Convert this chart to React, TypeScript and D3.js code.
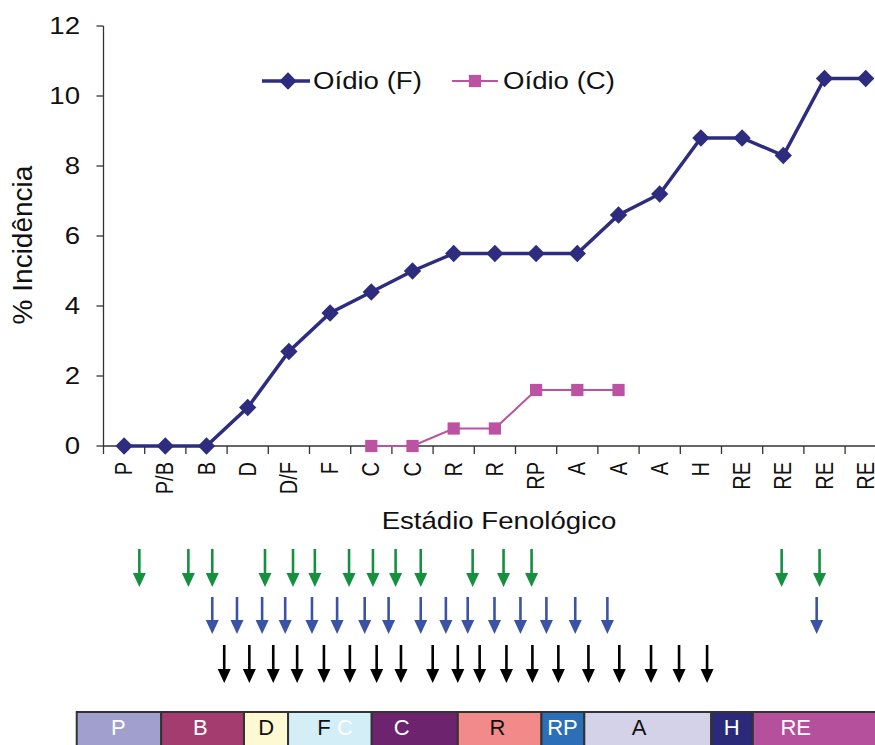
import React from 'react';
import * as d3 from 'd3';

// phenological stages on the x axis
const stages = ['P', 'P/B', 'B', 'D', 'D/F', 'F', 'C', 'C', 'R', 'R', 'RP', 'A', 'A', 'A', 'H', 'RE', 'RE', 'RE', 'RE'];
const oidioF = [0, 0, 0, 1.1, 2.7, 3.8, 4.4, 5.0, 5.5, 5.5, 5.5, 5.5, 6.6, 7.2, 8.8, 8.8, 8.3, 10.5, 10.5];
const oidioC: (number | null)[] = [null, null, null, null, null, null, 0, 0, 0.5, 0.5, 1.6, 1.6, 1.6, null, null, null, null, null, null];
const yTicks = [0, 2, 4, 6, 8, 10, 12];

// treatments (arrows), in stage units along the x axis
const greenArrows = [0.87, 2.06, 2.64, 3.92, 4.6, 5.13, 5.96, 6.54, 7.09, 7.7, 8.96, 9.71, 10.39, 16.46, 17.38];
const blueArrows = [2.64, 3.24, 3.85, 4.41, 5.06, 5.67, 6.34, 6.92, 7.7, 8.31, 8.84, 9.49, 10.12, 10.75, 11.45, 12.23, 17.31];
const blackArrows = [2.93, 3.54, 4.12, 4.7, 5.35, 5.98, 6.63, 7.22, 7.99, 8.6, 9.13, 9.78, 10.41, 11.04, 11.77, 12.52, 13.29, 13.97, 14.65];

// stage bar underneath
const barLabels = ['P', 'B', 'D', 'F C', 'C', 'R', 'RP', 'A', 'H', 'RE'];
const barStart = [-0.65, 1.4, 3.41, 4.48, 6.51, 8.6, 10.63, 11.67, 14.75, 15.76];
const barEnd = [1.4, 3.41, 4.48, 6.51, 8.6, 10.63, 11.67, 14.75, 15.76, 19.5];
const barLabelAt = [0.36, 2.35, 3.95, 5.62, 7.24, 9.56, 11.14, 13.0, 15.25, 16.8];
const barFill = ['#a09fcd', '#a43c6f', '#fdf9d2', '#d4eef8', '#6e236e', '#f38a8a', '#2a6fb7', '#d3d2e9', '#2b2a7a', '#b5509d'];
const barText = ['#fff', '#fff', '#111', '#111', '#fff', '#111', '#fff', '#111', '#fff', '#fff'];

const FONT = '"Liberation Sans", Arial, sans-serif';
const SX = 1.15; // the picture is a bit wider than tall
const NAVY = '#2d2c7e';
const PINK = '#bb52a2';

function SText(props: any) {
    const { x, y, rotate, children, ...rest } = props;
    const rot = rotate ? ` rotate(${rotate})` : '';
    return (
        <g transform={`translate(${x},${y}) scale(${SX},1)${rot}`}>
            <text fontFamily={FONT} {...rest}>{children}</text>
        </g>
    );
}

function Arrow(props: any) {
    const { x, top, tip, color } = props;
    const head = 14;
    return (
        <g>
            <line x1={x} x2={x} y1={top} y2={tip - head + 1} stroke={color} strokeWidth={2.6} />
            <path d={`M${x - 6.5},${tip - head} L${x + 6.5},${tip - head} L${x},${tip} Z`} fill={color} />
        </g>
    );
}

export default function App() {
    const width = 875;
    const height = 745;
    const left = 103.5;
    const step = 41.2;
    const n = stages.length;

    const x = d3.scaleBand<number>().domain(d3.range(n)).range([left, left + n * step]).padding(0);
    const pos = d3.scaleLinear().domain([0, n]).range([left, left + n * step]);
    const y = d3.scaleLinear().domain([0, 12]).range([446, 26]);
    const cx = (i: number) => (x(i) as number) + x.bandwidth() / 2;

    const line = d3.line<number | null>()
        .defined((d) => d != null)
        .x((d, i) => cx(i))
        .y((d) => y(d as number));

    const diamond = d3.symbol().type(d3.symbolSquare).size(150)();
    const square = d3.symbol().type(d3.symbolSquare).size(150)();

    const axisColor = '#333';

    return (
        <svg width={width} height={height} style={{ position: 'absolute', left: 0, top: 0, display: 'block', background: '#fff' }}>
            {/* y axis */}
            <line x1={left} x2={left} y1={y(12)} y2={y(0)} stroke={axisColor} strokeWidth={1.3} />
            {yTicks.map((t) => (
                <g key={t}>
                    <line x1={left - 7} x2={left} y1={y(t)} y2={y(t)} stroke={axisColor} strokeWidth={1.3} />
                    <SText x={80} y={y(t)} dy="0.35em" textAnchor="end" fontSize={24} fill="#111">{t}</SText>
                </g>
            ))}
            <text transform={`translate(32,245) rotate(-90)`} textAnchor="middle" fontFamily={FONT} fontSize={28} fill="#111">% Incidência</text>

            {/* x axis */}
            <line x1={left} x2={width} y1={y(0)} y2={y(0)} stroke={axisColor} strokeWidth={1.3} />
            {d3.range(n + 1).map((i) => (
                <line key={i} x1={pos(i)} x2={pos(i)} y1={y(0)} y2={y(0) + 8} stroke={axisColor} strokeWidth={1.3} />
            ))}
            {stages.map((s, i) => (
                <SText key={i} x={cx(i)} y={462} rotate={-90} dy="0.35em" textAnchor="end" fontSize={20} fill="#111">{s}</SText>
            ))}
            <SText x={499} y={529} textAnchor="middle" fontSize={24} fill="#111">Estádio Fenológico</SText>

            {/* series */}
            <path d={line(oidioF) as string} fill="none" stroke={NAVY} strokeWidth={3.5} />
            {oidioF.map((v, i) => (
                <path key={i} d={diamond as string} transform={`translate(${cx(i)},${y(v)}) rotate(45)`} fill={NAVY} />
            ))}
            <path d={line(oidioC) as string} fill="none" stroke={PINK} strokeWidth={2} />
            {oidioC.map((v, i) => v == null ? null : (
                <path key={i} d={square as string} transform={`translate(${cx(i)},${y(v)})`} fill={PINK} />
            ))}

            {/* legend */}
            <line x1={262} x2={310} y1={81} y2={81} stroke={NAVY} strokeWidth={3.5} />
            <path d={diamond as string} transform={`translate(288,81) rotate(45)`} fill={NAVY} />
            <SText x={313} y={81} dy="0.35em" fontSize={24} fill="#111">Oídio (F)</SText>
            <line x1={452} x2={498} y1={81} y2={81} stroke={PINK} strokeWidth={2} />
            <path d={square as string} transform={`translate(475,81)`} fill={PINK} />
            <SText x={503} y={81} dy="0.35em" fontSize={24} fill="#111">Oídio (C)</SText>

            {/* treatment arrows */}
            {greenArrows.map((a, i) => <Arrow key={'g' + i} x={pos(a)} top={549} tip={587} color="#14903f" />)}
            {blueArrows.map((a, i) => <Arrow key={'b' + i} x={pos(a)} top={597} tip={634} color="#3a53a4" />)}
            {blackArrows.map((a, i) => <Arrow key={'k' + i} x={pos(a)} top={645} tip={683} color="#000" />)}

            {/* stage bar */}
            {barLabels.map((lab, i) => (
                <rect key={'r' + i} x={pos(barStart[i])} y={712} width={pos(barEnd[i]) - pos(barStart[i])} height={50}
                    fill={barFill[i]} stroke="#333" strokeWidth={2} />
            ))}
            {barLabels.map((lab, i) => (
                <text key={'t' + i} x={pos(barLabelAt[i])} y={735} textAnchor="middle" fontFamily={FONT} fontSize={22} fill={barText[i]}>
                    {lab === 'F C' ? (<><tspan fill="#111">F</tspan><tspan fill="#fff"> C</tspan></>) : lab}
                </text>
            ))}
        </svg>
    );
}
